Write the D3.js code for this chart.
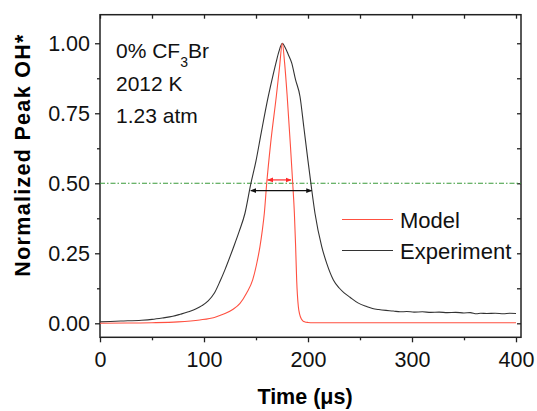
<!DOCTYPE html>
<html>
<head>
<meta charset="utf-8">
<script src="https://cdn.jsdelivr.net/npm/d3@7"></script>
<style>
  body { margin: 0; background: #fff; }
  svg { font-family: "Liberation Sans", Arial, sans-serif; }
</style>
</head>
<body>
<div id="chart"></div>
<script>
// model curve (red)
var modelT = [0, 25, 50, 75, 96, 110, 119, 128, 134.6, 141, 146.8, 150.5, 153.8, 156, 158, 160.3, 164, 169.5, 172.5, 175.3,
  177.5, 180, 183, 185.3, 186.9, 188.1, 189.1, 190.7, 192, 193.5, 195, 197, 200, 205, 250, 300, 350, 400];
var modelV = [0.0, 0.001, 0.002, 0.005, 0.012, 0.021, 0.033, 0.05, 0.071, 0.108, 0.155, 0.21, 0.274, 0.33, 0.393, 0.5, 0.64, 0.81, 0.91, 1.0,
  0.93, 0.81, 0.64, 0.5, 0.393, 0.274, 0.155, 0.06, 0.032, 0.016, 0.009, 0.005, 0.003, 0.002, 0.002, 0.002, 0.002, 0.002];

// experiment curve (black)
var expT = [0, 20, 40, 50, 60, 70, 77, 85, 92, 98, 104, 110, 115.4, 120, 128.2, 134, 139.4, 144.9, 150, 155, 161.8, 166, 169.2, 172, 175.3,
  178, 181, 184.3, 188, 192.3, 196, 200, 202.9, 206.7, 213.2, 218, 224.4, 230, 235, 240.4, 248, 256.4, 262, 268, 275, 282, 288.5,
  295, 302, 310, 318, 326, 334, 342, 350, 356, 362, 366, 372, 380, 388, 394, 400];
var expV = [0.005, 0.008, 0.011, 0.014, 0.019, 0.025, 0.032, 0.041, 0.051, 0.063, 0.08, 0.108, 0.15, 0.19, 0.27, 0.33, 0.393, 0.496, 0.58, 0.68, 0.81, 0.88, 0.93, 0.97, 1.0,
  0.985, 0.96, 0.93, 0.87, 0.81, 0.7, 0.58, 0.496, 0.393, 0.274, 0.214, 0.155, 0.126, 0.108, 0.093, 0.073, 0.06, 0.053, 0.049, 0.046, 0.044, 0.041,
  0.042, 0.04, 0.041, 0.039, 0.04, 0.038, 0.039, 0.037, 0.038, 0.034, 0.036, 0.035, 0.036, 0.034, 0.036, 0.035];

// half-max markers
var halfLevel = 0.5;
var modelFwhm = [161.2, 183.6], modelArrowY = 0.512;
var expFwhm = [145, 203.5], expArrowY = 0.474;

var xTicks = [0, 100, 200, 300, 400];
var xMinor = [50, 150, 250, 350];
var yTicks = [0, 0.25, 0.5, 0.75, 1.0];
var yMinor = [0.125, 0.375, 0.625, 0.875];

var seriesNames = ["Model", "Experiment"];
var seriesColors = ["#ff5040", "#333333"];
var noteLines = ["2012 K", "1.23 atm"];

const W = 537, H = 411;
const pLeft = 100, pRight = 521, pTop = 14.7, pBottom = 337.3;

var svg = d3.select("#chart").append("svg")
  .attr("width", W).attr("height", H);

var defs = svg.append("defs");
function marker(id, color) {
  defs.append("marker").attr("id", id)
    .attr("viewBox", "0 0 10 10").attr("refX", 9).attr("refY", 5)
    .attr("markerWidth", 5).attr("markerHeight", 5).attr("orient", "auto-start-reverse")
    .append("path").attr("d", "M0,1 L10,5 L0,9 Z").attr("fill", color);
}
marker("arrR", "#ff2a2a");
marker("arrK", "#111");

var x = d3.scaleLinear().domain([0, 404.8]).range([pLeft, pRight]);
var y = d3.scaleLinear().domain([-0.05, 1.102]).range([pBottom, pTop]);

// minor ticks first (no labels)
svg.append("g").attr("transform", "translate(0," + pBottom + ")")
  .call(d3.axisBottom(x).tickValues(xMinor).tickSize(3).tickFormat(""));
svg.append("g").attr("transform", "translate(" + pLeft + ",0)")
  .call(d3.axisLeft(y).tickValues(yMinor).tickSize(3).tickFormat(""));
svg.append("g").attr("transform", "translate(0," + pTop + ")")
  .call(d3.axisBottom(x).tickValues(xTicks.concat(xMinor)).tickSize(4).tickFormat(""));
svg.append("g").attr("transform", "translate(" + pRight + ",0)")
  .call(d3.axisLeft(y).tickValues(yTicks.concat(yMinor)).tickSize(4).tickFormat(""));

var xAxis = svg.append("g").attr("transform", "translate(0," + pBottom + ")")
  .call(d3.axisBottom(x).tickValues(xTicks).tickSize(5).tickPadding(9).tickFormat(d3.format("d")));
var yAxis = svg.append("g").attr("transform", "translate(" + pLeft + ",0)")
  .call(d3.axisLeft(y).tickValues(yTicks).tickSize(5).tickPadding(5).tickFormat(d3.format(".2f")));

svg.selectAll(".domain").remove();
svg.selectAll(".tick line").attr("stroke", "#222").attr("stroke-width", 1.3);
xAxis.selectAll("text").attr("font-size", 21.5).attr("fill", "#111").attr("font-family", "Liberation Sans, Arial, sans-serif");
yAxis.selectAll("text").attr("font-size", 21.5).attr("fill", "#111").attr("font-family", "Liberation Sans, Arial, sans-serif");

// frame
svg.append("rect").attr("x", pLeft).attr("y", pTop)
  .attr("width", pRight - pLeft).attr("height", pBottom - pTop)
  .attr("fill", "none").attr("stroke", "#222").attr("stroke-width", 1.5);

// half-max line
svg.append("line")
  .attr("x1", pLeft).attr("x2", pRight)
  .attr("y1", y(halfLevel)).attr("y2", y(halfLevel))
  .attr("stroke", "#3a9a3a").attr("stroke-width", 1.1)
  .attr("stroke-dasharray", "5,2,1.5,2");

var line = d3.line().x(d => x(d[0])).y(d => y(d[1])).curve(d3.curveMonotoneX);
var expData = expT.map((t, i) => [t, expV[i]]);
var modelData = modelT.map((t, i) => [t, modelV[i]]);

svg.append("path").datum(expData).attr("d", line)
  .attr("fill", "none").attr("stroke", seriesColors[1]).attr("stroke-width", 1.1);
svg.append("path").datum(modelData).attr("d", line)
  .attr("fill", "none").attr("stroke", seriesColors[0]).attr("stroke-width", 1.1);

// FWHM arrows
svg.append("line")
  .attr("x1", x(modelFwhm[0])).attr("x2", x(modelFwhm[1]))
  .attr("y1", y(modelArrowY)).attr("y2", y(modelArrowY))
  .attr("stroke", "#ff2a2a").attr("stroke-width", 1.2)
  .attr("marker-start", "url(#arrR)").attr("marker-end", "url(#arrR)");
svg.append("line")
  .attr("x1", x(expFwhm[0])).attr("x2", x(expFwhm[1]))
  .attr("y1", y(expArrowY)).attr("y2", y(expArrowY))
  .attr("stroke", "#111").attr("stroke-width", 1.2)
  .attr("marker-start", "url(#arrK)").attr("marker-end", "url(#arrK)");

// annotation text
var note = svg.append("g").attr("font-size", 21).attr("fill", "#111");
var t0 = note.append("text").attr("x", 116).attr("y", 58);
t0.append("tspan").text("0% CF");
t0.append("tspan").attr("font-size", 14).attr("dy", 9).text("3");
t0.append("tspan").attr("dy", -9).text("Br");
noteLines.forEach(function(s, i) {
  note.append("text").attr("x", 116).attr("y", 91 + i * 32).text(s);
});

// legend
var legY = [219.5, 250.5];
seriesNames.forEach(function(n, i) {
  svg.append("line").attr("x1", 342).attr("x2", 393)
    .attr("y1", legY[i]).attr("y2", legY[i])
    .attr("stroke", seriesColors[i]).attr("stroke-width", 1.2);
  svg.append("text").attr("x", 400).attr("y", legY[i] + 8.5)
    .attr("font-size", 22).attr("fill", "#111").text(n);
});

// axis titles
svg.append("text").attr("x", 305).attr("y", 404)
  .attr("text-anchor", "middle").attr("font-size", 21.5).attr("font-weight", "bold")
  .text("Time (\u03bcs)");
svg.append("text")
  .attr("transform", "translate(30,155) rotate(-90)")
  .attr("text-anchor", "middle").attr("font-size", 21.5).attr("font-weight", "bold")
  .attr("letter-spacing", 1.3)
  .text("Normalized Peak OH*");
</script>
</body>
</html>
